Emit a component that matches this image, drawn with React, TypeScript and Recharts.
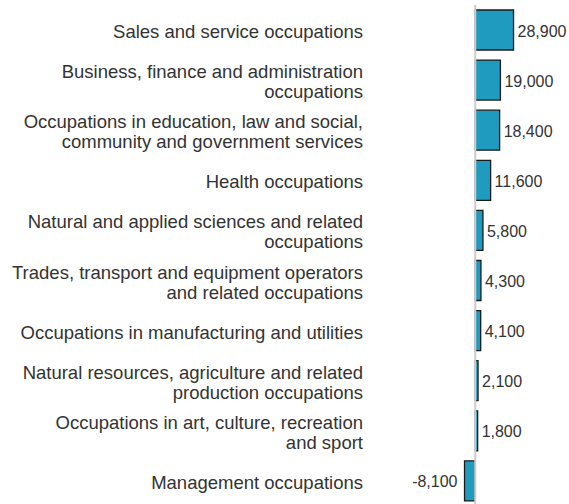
import { BarChart, Bar, XAxis, YAxis, ReferenceLine, LabelList } from 'recharts'

const categories = [
  'Sales and service occupations',
  'Business, finance and administration\noccupations',
  'Occupations in education, law and social,\ncommunity and government services',
  'Health occupations',
  'Natural and applied sciences and related\noccupations',
  'Trades, transport and equipment operators\nand related occupations',
  'Occupations in manufacturing and utilities',
  'Natural resources, agriculture and related\nproduction occupations',
  'Occupations in art, culture, recreation\nand sport',
  'Management occupations',
]
const values = [28900, 19000, 18400, 11600, 5800, 4300, 4100, 2100, 1800, -8100]

const data = categories.map((name, i) => ({ name, value: values[i] }))

const FONT = '"Liberation Sans", Arial, sans-serif'
const TEXT = '#333'

const CatTick = ({ y, payload }: any) => {
  const lines = String(payload.value).split('\n')
  const start = -((lines.length - 1) * 20) / 2
  return (
    <text x={363} y={y + 1.5} textAnchor="end" fontFamily={FONT} fontSize={18.5} fill={TEXT}>
      {lines.map((l, i) => (
        <tspan key={i} x={363} dy={i === 0 ? start : 20} dominantBaseline="central">{l}</tspan>
      ))}
    </text>
  )
}

const ValueLabel = (props: any) => {
  const { x, y, width, height, value } = props
  const left = Math.min(x, x + width)
  const right = Math.max(x, x + width)
  const neg = value < 0
  return (
    <text x={neg ? left - 7 : right + 4} y={y + height / 2 + 1} textAnchor={neg ? 'end' : 'start'}
      dominantBaseline="central" fontFamily={FONT} fontSize={16} fill={TEXT}>
      {value.toLocaleString('en-US')}
    </text>
  )
}

export default function App() {
  return (
    <div style={{ position: 'absolute', left: 0, top: 0, width: 569, height: 504 }}>
      <BarChart width={569} height={504} data={data} layout="vertical"
        margin={{ top: 5, right: 54, bottom: -2, left: 0 }} barCategoryGap={5}>
        <XAxis type="number" domain={[-10000, 30000]} hide />
        <YAxis type="category" dataKey="name" width={462} axisLine={false} tickLine={false} tick={<CatTick />} interval={0} />
        <ReferenceLine x={0} stroke="#cccccc" strokeWidth={2} />
        <Bar dataKey="value" fill="#1e9bbf" stroke="#1a1a1a" strokeWidth={1.3} barSize={40} isAnimationActive={false}>
          <LabelList dataKey="value" content={<ValueLabel />} />
        </Bar>
      </BarChart>
    </div>
  )
}
